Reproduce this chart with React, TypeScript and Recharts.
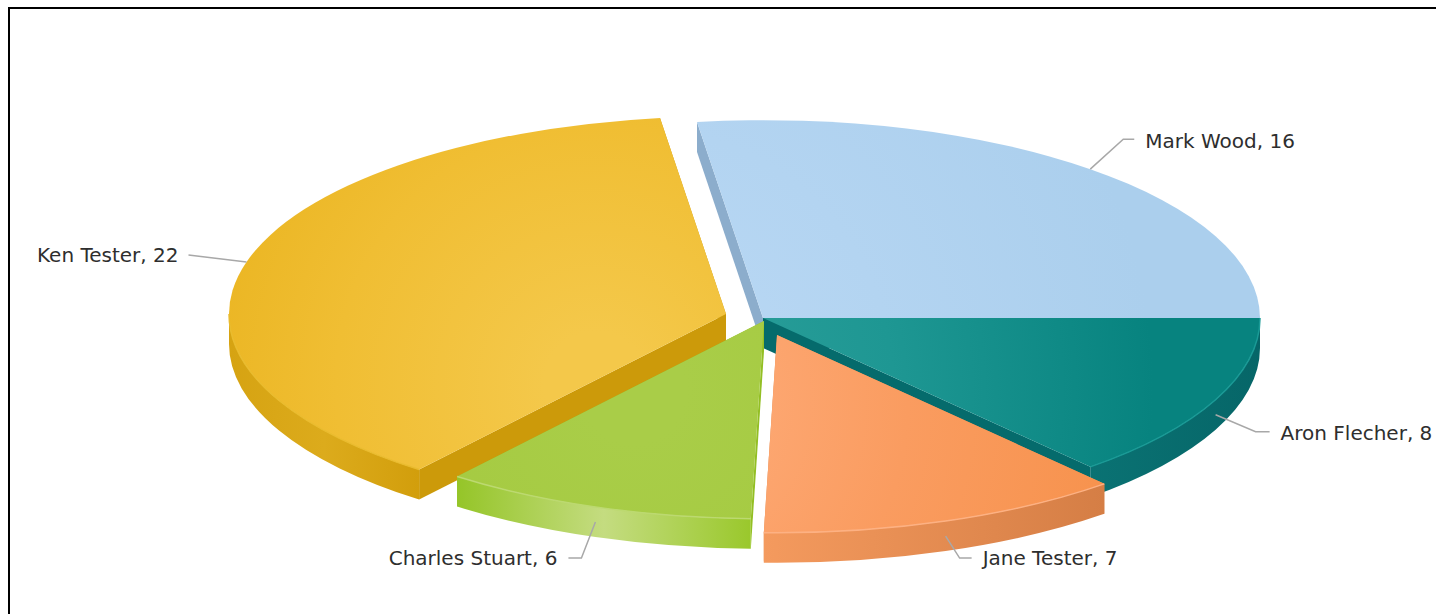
import React from "react";
import { PieChart, Pie } from "recharts";

const names = ["Ken Tester", "Mark Wood", "Aron Flecher", "Jane Tester", "Charles Stuart"];
const values = [22, 16, 8, 7, 6];
const pieData = names.map((name, i) => ({ name, value: values[i] }));

const CX = 763;
const CY = 318;
const RX = 497;
const TILT = 0.398;
const DEPTH = 30;
const START = 97.63 + (22 / 59) * 360;

const styles: Record<string, any> = {
  "Ken Tester": { off: [-37, -4], c: ["#f4c84a", "#f0be33", "#e6ae14"], wall: ["#d6a312", "#dcab1c", "#d29e0c"], edge: "#cc9a0a", rim: "#e9bb2e", lead: [-58, -7, 0], gap: 10, ty: 2, anchor: "end", onWall: false },
  "Mark Wood": { off: [0, 0], c: ["#b9d8f4", "#b3d4f1", "#abcfed"], wall: ["#8fb0cf", "#8fb0cf"], edge: "#8cadcc", rim: "#b3d4f1", lead: [33, -30, 11], gap: 11, ty: 3, anchor: "start", onWall: false },
  "Aron Flecher": { off: [0, 0], c: ["#2c9f9a", "#1e9793", "#07837f"], wall: ["#0a7273", "#066668"], edge: "#056b6c", rim: "#1a9a96", lead: [40, 17, 14], gap: 11, ty: 3, anchor: "start", onWall: true },
  "Jane Tester": { off: [14, 17], c: ["#feab78", "#fa9c60", "#f69049"], wall: ["#f49a5e", "#d57e45"], edge: "#e08a50", rim: "#fdb183", lead: [14, 22, 12], gap: 11, ty: 1, anchor: "start", onWall: true },
  "Charles Stuart": { off: [1, 3], c: ["#a9cd48", "#a4ca40", "#9bc52e"], wall: ["#95c528", "#c4dc80", "#9ac82c"], edge: "#93bf24", rim: "#bcd970", lead: [-14, 36, -13], gap: 11, ty: 1, anchor: "end", onWall: true },
};

const at = (ax: number, ay: number, a: number) => {
  const t = (a * Math.PI) / 180;
  return [ax + RX * Math.cos(t), ay - RX * TILT * Math.sin(t)];
};

function Slice(props: any) {
  const { startAngle, endAngle, name, index } = props;
  const st = styles[name];
  const ax = CX + st.off[0];
  const ay = CY + st.off[1];
  let lo = Math.min(startAngle, endAngle);
  let hi = Math.max(startAngle, endAngle);
  if (hi < 1) {
    lo += 360;
    hi += 360;
  }
  const ry = RX * TILT;
  const pHi = at(ax, ay, hi);
  const pLo = at(ax, ay, lo);
  const large = hi - lo > 180 ? 1 : 0;
  const top = `M${ax},${ay}L${pHi[0]},${pHi[1]}A${RX},${ry} 0 ${large} 1 ${pLo[0]},${pLo[1]}Z`;
  const vLo = Math.max(lo, 180);
  const vHi = Math.min(hi, 360);
  const hasWall = vHi > vLo;
  const a = at(ax, ay, vHi);
  const b = at(ax, ay, vLo);
  const wall = `M${a[0]},${a[1]}A${RX},${ry} 0 0 1 ${b[0]},${b[1]}L${b[0]},${b[1] + DEPTH}A${RX},${ry} 0 0 0 ${a[0]},${a[1] + DEPTH}Z`;
  const rim = `M${a[0]},${a[1]}A${RX},${ry} 0 0 1 ${b[0]},${b[1]}`;
  const side = (p: number[]) => `M${ax},${ay}L${p[0]},${p[1]}L${p[0]},${p[1] + DEPTH}L${ax},${ay + DEPTH}Z`;
  const gid = `top-${index}`;
  const wid = `wall-${index}`;
  const wx = Math.min(a[0], b[0]);
  const wX = Math.max(a[0], b[0]);
  return (
    <g>
      <defs>
        <radialGradient id={gid} gradientUnits="userSpaceOnUse" cx={ax - 130} cy={ay + 70} r={520}>
          <stop offset="0.1" stopColor={st.c[0]} />
          <stop offset="0.5" stopColor={st.c[1]} />
          <stop offset="1" stopColor={st.c[2]} />
        </radialGradient>
        <linearGradient id={wid} gradientUnits="userSpaceOnUse" x1={wx} x2={wX} y1="0" y2="0">
          {st.wall.map((w: string, i: number) => (
            <stop key={i} offset={i / (st.wall.length - 1)} stopColor={w} />
          ))}
        </linearGradient>
      </defs>
      <path d={side(pHi)} fill={st.edge} />
      <path d={side(pLo)} fill={st.edge} />
      {hasWall && <path d={wall} fill={`url(#${wid})`} />}
      <path d={top} fill={`url(#${gid})`} />
      {hasWall && <path d={rim} fill="none" stroke={st.rim} strokeWidth={1.5} />}
    </g>
  );
}

function Callout(props: any) {
  const { midAngle, name, value } = props;
  const st = styles[name];
  const p = at(CX + st.off[0], CY + st.off[1], midAngle);
  const x0 = p[0];
  const y0 = p[1] + (st.onWall ? DEPTH / 2 : 0);
  const x1 = x0 + st.lead[0];
  const y1 = y0 + st.lead[1];
  const x2 = x1 + st.lead[2];
  const tx = x2 + (st.anchor === "start" ? st.gap : -st.gap);
  return (
    <g>
      <path d={`M${x0},${y0}L${x1},${y1}L${x2},${y1}`} fill="none" stroke="#a8a8a8" strokeWidth={1.5} />
      <text x={tx} y={y1 + st.ty} textAnchor={st.anchor} dominantBaseline="middle" fontFamily="DejaVu Sans" fontSize={20} fill="#2e2e2e">
        {`${name}, ${value}`}
      </text>
    </g>
  );
}

export default function App() {
  return (
    <div style={{ position: "absolute", left: 0, top: 0, width: 1436, height: 614, overflow: "hidden", background: "#fff" }}>
      <div style={{ position: "absolute", left: 8, top: 7, right: 0, bottom: 0, borderLeft: "2px solid #000", borderTop: "2px solid #000" }} />
      <div style={{ position: "absolute", left: 0, top: 0 }}>
        <PieChart width={1436} height={614} margin={{ top: 0, right: 0, bottom: 0, left: 0 }}>
          <Pie
            data={pieData}
            dataKey="value"
            nameKey="name"
            cx={CX}
            cy={CY}
            innerRadius={0}
            outerRadius={RX}
            startAngle={START}
            endAngle={START - 360}
            stroke="none"
            shape={Slice}
            label={Callout}
            labelLine={false}
            isAnimationActive={false}
          />
        </PieChart>
      </div>
    </div>
  );
}
